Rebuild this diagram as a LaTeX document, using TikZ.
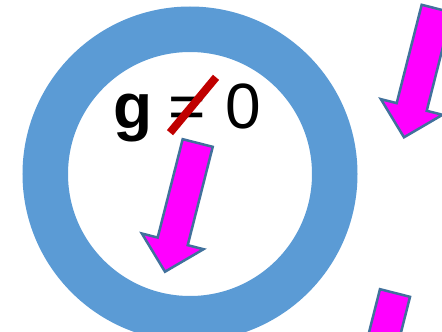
\documentclass[tikz,border=0pt]{standalone}
\usepackage{fontspec}
\setmainfont{Liberation Sans}
\definecolor{ringblue}{HTML}{5B9BD5}
\definecolor{arrowedge}{HTML}{41719C}
\definecolor{arrowfill}{RGB}{255,0,255}
\definecolor{slashred}{HTML}{C00000}
\tikzset{
  ringline/.style={draw=ringblue, line width=45.5pt},
  magarrow/.style={fill=arrowfill, draw=arrowedge, line width=2.5pt},
  bigtext/.style={inner sep=0pt, anchor=base west, font=\fontsize{64}{70}\selectfont}
}

\begin{document}
\begin{tikzpicture}[x=1pt,y=1pt]
    \useasboundingbox (0,0) rectangle (442,-332);
    \clip (0,0) rectangle (442,-332);
    \draw[ringline] (190,-174) circle (144.75);
    \node[bigtext] (gsym) at (113.5,-128) {\textbf{g}};
    \node[bigtext] (eqsym) at (168.5,-128) {=};
    \node[bigtext] (zero) at (225,-128) {0};
    \draw[slashred, line width=8pt] (170,-132.7) -- (216,-77.3);
    \foreach \dx/\dy in {0/0, 239/134.4, 197.3/-150} {
      \begin{scope}[shift={(197.7+\dx,-143+\dy)}, rotate=-104.26]
        \draw[magarrow] (0,15.5) -- (101.5,15.5) -- (101.5,31.8) -- (132.8,0)
          -- (101.5,-31.8) -- (101.5,-15.5) -- (0,-15.5) -- cycle;
      \end{scope}
    }
\end{tikzpicture}
\end{document}
